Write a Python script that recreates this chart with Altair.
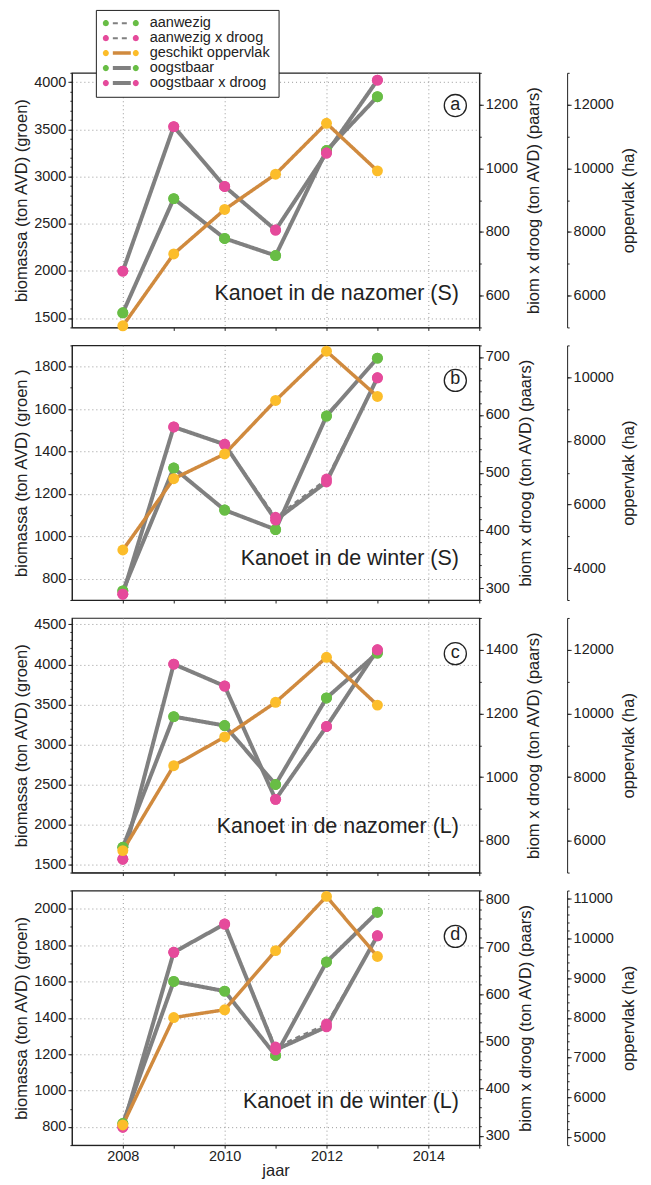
import altair as alt
import pandas as pd

FONT = "Liberation Sans"

jaren = [2008, 2009, 2010, 2011, 2012, 2013]
reeksen = ["aanwezig", "aanwezig x droog", "geschikt oppervlak", "oogstbaar", "oogstbaar x droog"]

# Panel a - Kanoet in de nazomer (S)
a_aanwezig = [1555, 2766, 2344, 2162, 3276, 3847]
a_aanwezig_droog = [677, 1131, 943, 806, 1048, 1277]
a_geschikt = [5050, 7310, 8706, 9814, 11415, 9920]
a_oogstbaar = [1555, 2766, 2344, 2162, 3276, 3847]
a_oogstbaar_droog = [677, 1131, 943, 806, 1048, 1277]

# Panel b - Kanoet in de winter (S)
b_aanwezig = [743, 1322, 1124, 1032, 1567, 1840]
b_aanwezig_droog = [290, 579, 549, 423, 489, 664]
b_geschikt = [4571, 6811, 7588, 9269, 10817, 9395]
b_oogstbaar = [743, 1322, 1124, 1032, 1567, 1840]
b_oogstbaar_droog = [290, 579, 549, 418, 484, 664]

# Panel c - Kanoet in de nazomer (L)
c_aanwezig = [1716, 3348, 3236, 2500, 3581, 4142]
c_aanwezig_droog = [742, 1355, 1286, 930, 1159, 1400]
c_geschikt = [5690, 8358, 9261, 10351, 11765, 10262]
c_oogstbaar = [1716, 3348, 3236, 2500, 3581, 4142]
c_oogstbaar_droog = [742, 1355, 1286, 930, 1159, 1400]

# Panel d - Kanoet in de winter (L)
d_aanwezig = [819, 1600, 1547, 1193, 1707, 1981]
d_aanwezig_droog = [318, 689, 749, 488, 537, 724]
d_geschikt = [5308, 8007, 8203, 9689, 11053, 9542]
d_oogstbaar = [819, 1600, 1547, 1193, 1707, 1981]
d_oogstbaar_droog = [318, 689, 749, 482, 531, 724]

titels = ["Kanoet in de nazomer (S)", "Kanoet in de winter (S)",
          "Kanoet in de nazomer (L)", "Kanoet in de winter (L)"]
letters = ["a", "b", "c", "d"]
links_titels = ["biomassa (ton AVD) (groen)", "biomassa (ton AVD) (groen )",
                "biomassa (ton AVD) (groen)", "biomassa (ton AVD) (groen)"]

# axis domains and tick values
links_dom = [[1400, 4100], [700, 1900], [1400, 4580], [700, 2100]]
links_ticks = [[1500, 2000, 2500, 3000, 3500, 4000],
               [800, 1000, 1200, 1400, 1600, 1800],
               [1500, 2000, 2500, 3000, 3500, 4000, 4500],
               [800, 1000, 1200, 1400, 1600, 1800, 2000]]
links_minor_stap = [100, 100, 100, 100]
rechts_dom = [[500, 1300], [280, 720], [700, 1500], [280, 820]]
rechts_ticks = [[600, 800, 1000, 1200], [300, 400, 500, 600, 700],
                [800, 1000, 1200, 1400], [300, 400, 500, 600, 700, 800]]
rechts_minor_stap = [100, 20, 100, 20]
opp_dom = [[5000, 13000], [3000, 11000], [5000, 13000], [4800, 11200]]
opp_ticks = [[6000, 8000, 10000, 12000], [4000, 6000, 8000, 10000],
             [6000, 8000, 10000, 12000],
             [5000, 6000, 7000, 8000, 9000, 10000, 11000]]
opp_minor_stap = [1000, 1000, 1000, 200]
# annotation anchor positions (data units: year, left-axis value)
tekst_x = 2014.6
tekst_y = [1751, 893, 1974, 936]
letter_x = 2014.53
letter_y = [3753, 1735, 4134, 1848]

panel_data = [
    (a_aanwezig, a_aanwezig_droog, a_geschikt, a_oogstbaar, a_oogstbaar_droog),
    (b_aanwezig, b_aanwezig_droog, b_geschikt, b_oogstbaar, b_oogstbaar_droog),
    (c_aanwezig, c_aanwezig_droog, c_geschikt, c_oogstbaar, c_oogstbaar_droog),
    (d_aanwezig, d_aanwezig_droog, d_geschikt, d_oogstbaar, d_oogstbaar_droog),
]

GREEN = "#68bd45"
PINK = "#e54a9b"
YELLOW = "#fcbd2a"
BROWN = "#d08a3e"
GRAY = "#808080"

lijnen = [r + " " for r in reeksen]
DOT_COLS = [GREEN, PINK, YELLOW, GREEN, PINK]
LINE_COLS = [GRAY, GRAY, BROWN, GRAY, GRAY]
DASHES = [[5, 4], [5, 4], [1, 0], [1, 0], [1, 0]]
WIDTHS = [2, 2, 3.5, 4, 4]

DOTS_PATH = ("M -1 0 A 0.1667 0.1667 0 1 0 -0.6667 0 A 0.1667 0.1667 0 1 0 -1 0 Z "
             "M 0.6667 0 A 0.1667 0.1667 0 1 0 1 0 A 0.1667 0.1667 0 1 0 0.6667 0 Z")
LINE_PATH = "M -0.5 0 L 0.5 0"

LEG_X = 24
LEG_Y = -63
common_leg = dict(title=None, orient="none", legendX=LEG_X, legendY=LEG_Y,
                  symbolSize=1296, clipHeight=14.5, rowPadding=-7, padding=6,
                  labelOffset=10, labelFontSize=14.5, labelFont=FONT,
                  labelColor="#222", symbolOpacity=1)
LEG_P = alt.Legend(symbolType=DOTS_PATH, **common_leg)
LEG_L = alt.Legend(symbolType=LINE_PATH, labelOpacity=0, fillColor="white",
                   strokeColor="#222", **common_leg)


def build_df(vals, names):
    rows = []
    for v, n in zip(vals, names):
        for j, w in zip(jaren, v):
            rows.append({"jaar": j, "waarde": w, "reeks": n, "lijn": n + " "})
    return pd.DataFrame(rows)


def minor(dom, stap):
    start = (dom[0] // stap) * stap
    return [v for v in range(int(start), int(dom[1]) + 1, int(stap)) if dom[0] <= v <= dom[1]]


def panel(i):
    aanw, aanw_d, gesch, oogst, oogst_d = panel_data[i]
    df_g = build_df([aanw, oogst], ["aanwezig", "oogstbaar"])
    df_p = build_df([aanw_d, oogst_d], ["aanwezig x droog", "oogstbaar x droog"])
    df_o = build_df([gesch], ["geschikt oppervlak"])
    last = i == 3

    xaxis = alt.Axis(
        values=[2008, 2009, 2010, 2011, 2012, 2013, 2014, 2015],
        labels=last, title="jaar" if last else None, format="d",
        labelExpr="datum.value % 2 == 0 ? datum.label : ''",
        grid=True, gridOpacity={"condition": {"test": "datum.value % 2 == 0", "value": 1}, "value": 0},
        gridDash=[1, 3], gridColor="#999", tickSize=3, labelPadding=1,
        titlePadding=0, titleFontSize=16.5,
    )
    X = alt.X("jaar:Q", scale=alt.Scale(domain=[2007, 2015], nice=False, zero=False), axis=xaxis)

    def Y(dom, axis):
        return alt.Y("waarde:Q", scale=alt.Scale(domain=dom, nice=False, zero=False), axis=axis)

    ax_l = alt.Axis(values=links_ticks[i], title=links_titels[i], orient="left", grid=True,
                    gridDash=[1, 3], gridColor="#999", tickSize=4, labelPadding=2,
                    titlePadding=4, format="d")
    ax_r = alt.Axis(values=rechts_ticks[i], title="biom x droog (ton AVD) (paars)", orient="right",
                    grid=False, tickSize=4, labelPadding=2, titleAngle=270, titlePadding=8,
                    titleBaseline="top", format="d")
    ax_o = alt.Axis(values=opp_ticks[i], title="oppervlak (ha)", orient="right", offset=88,
                    grid=False, tickSize=4, labelPadding=2, titleAngle=270, titlePadding=7,
                    titleBaseline="top", format="d")

    def minor_axis(dom, stap, orient, offset=0):
        return alt.Axis(values=minor(dom, stap), orient=orient, offset=offset, labels=False,
                        title=None, grid=False, domain=False, tickSize=2)

    mi_l = minor_axis(links_dom[i], links_minor_stap[i], "left")
    mi_r = minor_axis(rechts_dom[i], rechts_minor_stap[i], "right")
    mi_o = minor_axis(opp_dom[i], opp_minor_stap[i], "right", 88)

    def line_layer(df, dom, axis):
        return alt.Chart(df).mark_line(strokeJoin="round").encode(
            x=X, y=Y(dom, axis),
            stroke=alt.Stroke("lijn:N", scale=alt.Scale(domain=lijnen, range=LINE_COLS), legend=LEG_L),
            strokeDash=alt.StrokeDash("lijn:N", scale=alt.Scale(domain=lijnen, range=DASHES), legend=LEG_L),
            strokeWidth=alt.StrokeWidth("lijn:N", scale=alt.Scale(type="ordinal", domain=lijnen, range=WIDTHS), legend=LEG_L),
            order="jaar:Q",
        )

    def point_layer(df, dom, axis):
        return alt.Chart(df).mark_circle(size=120, opacity=1).encode(
            x=X, y=Y(dom, axis),
            color=alt.Color("reeks:N", scale=alt.Scale(domain=reeksen, range=DOT_COLS), legend=LEG_P),
        )

    ann = pd.DataFrame({"jaar": [tekst_x], "waarde": [tekst_y[i]], "t": [titels[i]]})
    let = pd.DataFrame({"jaar": [letter_x], "waarde": [letter_y[i]], "t": [letters[i]]})
    txt = alt.Chart(ann).mark_text(align="right", baseline="middle", fontSize=21.5, font=FONT,
                                   color="#222").encode(x=X, y=Y(links_dom[i], None), text="t:N")
    circ = alt.Chart(let).mark_point(shape="circle", size=490, filled=True, fill="white",
                                     stroke="#222", strokeWidth=1.3, opacity=1).encode(
        x=X, y=Y(links_dom[i], None))
    lettxt = alt.Chart(let).mark_text(align="center", baseline="middle", fontSize=18, font=FONT,
                                      color="#222", dy=-1).encode(x=X, y=Y(links_dom[i], None), text="t:N")

    return alt.layer(
        line_layer(df_g, links_dom[i], ax_l),
        line_layer(df_p, rechts_dom[i], ax_r),
        line_layer(df_o, opp_dom[i], ax_o),
        point_layer(df_g, links_dom[i], mi_l),
        point_layer(df_p, rechts_dom[i], mi_r),
        point_layer(df_o, opp_dom[i], mi_o),
        txt, circ, lettxt,
    ).resolve_scale(y="independent").properties(width=408, height=255)


chart = alt.vconcat(
    panel(0), panel(1), panel(2), panel(3),
    spacing=18, bounds="flush",
    padding={"left": 5, "top": 0, "right": 5, "bottom": 5},
).configure_view(
    stroke="#222", strokeWidth=1.2
).configure_axis(
    labelFont=FONT, titleFont=FONT, labelFontSize=14.5, titleFontSize=16.5,
    labelColor="#222", titleColor="#222", tickColor="#222", domainColor="#222",
    titleFontWeight="normal",
)

chart.save("out.html", embed_options={"renderer": "svg", "actions": False})
